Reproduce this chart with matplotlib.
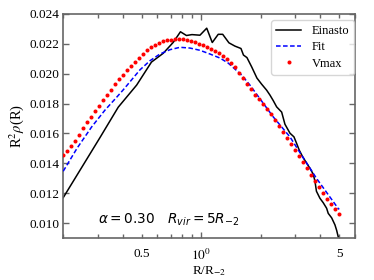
import matplotlib
matplotlib.use("Agg")
import matplotlib.pyplot as plt
from matplotlib.ticker import FixedLocator, FixedFormatter, MultipleLocator, FormatStrFormatter

plt.rcParams['font.family'] = ['Liberation Serif', 'DejaVu Serif']
plt.rcParams['mathtext.fontset'] = 'stix'

# Einasto profile (simulation)
ein_x = [0.2, 0.3069, 0.3799, 0.4709, 0.5596, 0.6421, 0.7214, 0.7847, 0.8415, 0.8973,
         0.985, 1.066, 1.137, 1.219, 1.284, 1.381, 1.481, 1.589, 1.636, 1.704,
         1.800, 1.914, 2.022, 2.143, 2.228, 2.315, 2.409, 2.554, 2.653, 2.813,
         2.948, 3.041, 3.135, 3.262, 3.418, 3.551, 3.691, 3.765, 3.831, 3.990,
         4.147, 4.314, 4.395, 4.574, 4.753, 4.849, 4.94]
ein_y = [0.01170, 0.01572, 0.01776, 0.01924, 0.02078, 0.02137, 0.02210, 0.02281, 0.02256, 0.02262,
         0.02258, 0.02305, 0.02209, 0.02264, 0.02264, 0.02207, 0.02185, 0.02169, 0.02125, 0.02108,
         0.02046, 0.01971, 0.01930, 0.01890, 0.01857, 0.01820, 0.01778, 0.01743, 0.01662, 0.01602,
         0.01577, 0.01533, 0.01488, 0.01444, 0.01401, 0.01367, 0.01327, 0.01280, 0.01213, 0.01166,
         0.01136, 0.01099, 0.01065, 0.01035, 0.00988, 0.00951, 0.00907]

# Fit
fit_x = [0.2, 0.235, 0.2787, 0.3253, 0.3657, 0.4014, 0.4894, 0.5498, 0.6178, 0.6943,
         0.7803, 0.8765, 0.985, 1.107, 1.244, 1.370, 1.602, 1.764, 2.315, 2.813,
         3.16, 3.839, 4.94, 5.0]
fit_y = [0.01347, 0.01501, 0.01644, 0.01756, 0.01830, 0.01890, 0.02026, 0.02087, 0.02132, 0.02161,
         0.02177, 0.02172, 0.02157, 0.02132, 0.02105, 0.02071, 0.01991, 0.01924, 0.01711, 0.01577,
         0.01472, 0.01298, 0.01097, 0.01092]

# Vmax
vmax_x = [0.2, 0.2096, 0.2196, 0.2301, 0.2411, 0.2526, 0.2646, 0.2773, 0.2905, 0.3044,
          0.3189, 0.3341, 0.3501, 0.3668, 0.3843, 0.4027, 0.4219, 0.4421, 0.4632, 0.4853,
          0.5085, 0.5328, 0.5582, 0.5849, 0.6128, 0.6421, 0.6727, 0.7049, 0.7385, 0.7738,
          0.8108, 0.8495, 0.8901, 0.9326, 0.9771, 1.0238, 1.0727, 1.1239, 1.1776, 1.2338,
          1.2928, 1.3545, 1.4192, 1.4870, 1.5580, 1.6324, 1.7104, 1.7921, 1.8777, 1.9674,
          2.0613, 2.1598, 2.2629, 2.3710, 2.4843, 2.6029, 2.7272, 2.8575, 2.9940, 3.1370,
          3.2868, 3.4438, 3.6083, 3.7806, 3.9612, 4.1504, 4.3486, 4.5563, 4.7739, 5.0]
vmax_y = [0.01454, 0.01484, 0.01515, 0.01551, 0.01592, 0.01635, 0.01676, 0.01709, 0.01749, 0.01786,
          0.01823, 0.01860, 0.01894, 0.01930, 0.01964, 0.01994, 0.02024, 0.02051, 0.02078, 0.02105,
          0.02135, 0.02159, 0.02179, 0.02195, 0.02207, 0.02217, 0.02224, 0.02228, 0.02232, 0.02232,
          0.02230, 0.02227, 0.02220, 0.02212, 0.02201, 0.02192, 0.02180, 0.02167, 0.02152, 0.02136,
          0.02118, 0.02098, 0.02072, 0.02043, 0.02008, 0.01970, 0.01930, 0.01895, 0.01860, 0.01830,
          0.01796, 0.01766, 0.01729, 0.01692, 0.01652, 0.01610, 0.01568, 0.01528, 0.01488, 0.01451,
          0.01411, 0.01367, 0.01321, 0.01283, 0.01244, 0.01203, 0.01164, 0.01127, 0.01091, 0.01058]

x_minor_labels = {0.5: "0.5", 5.0: "5"}

fig = plt.figure(figsize=(3.74, 2.80), dpi=100)
ax = fig.add_axes([0.169, 0.15, 0.78, 0.80])

ax.plot(ein_x, ein_y, color='black', lw=1.1, label='Einasto', zorder=2)
ax.plot(fit_x, fit_y, color='blue', lw=1.1, ls='--', dashes=(3.0, 1.6), label='Fit', zorder=3)
ax.plot(vmax_x, vmax_y, ls='none', marker='o', ms=2.9, mec='none', color='red', label='Vmax', zorder=4)

ax.set_xscale('log')
ax.set_xlim(0.2, 6)
ax.set_ylim(0.009, 0.024)

ax.xaxis.set_major_locator(FixedLocator([1.0]))
ax.xaxis.set_major_formatter(FixedFormatter([r'$10^0$']))
minor_pos = [0.2, 0.3, 0.4, 0.5, 0.6, 0.7, 0.8, 0.9, 2, 3, 4, 5, 6]
ax.xaxis.set_minor_locator(FixedLocator(minor_pos))
ax.xaxis.set_minor_formatter(FixedFormatter([x_minor_labels.get(float(v), '') for v in minor_pos]))

ax.yaxis.set_major_locator(MultipleLocator(0.002))
ax.yaxis.set_major_formatter(FormatStrFormatter('%.3f'))

spine_c = '#666666'
for s in ax.spines.values():
    s.set_color(spine_c)
    s.set_linewidth(1.2)
ax.tick_params(which='both', direction='in', top=True, right=True, color=spine_c, labelsize=9.5, labelcolor='black')
ax.tick_params(which='major', length=4, width=1.0)
ax.tick_params(which='minor', length=3, width=1.0)
ax.tick_params(axis='x', which='both', pad=7)
ax.tick_params(axis='y', which='both', pad=2.5)

ax.set_xlabel(r'R/R$_{-2}$', fontsize=9.5, labelpad=1)
ax.set_ylabel(r'R$^2\rho$(R)', fontsize=10.5, labelpad=3)

ax.text(0.119, 0.065, r'$\alpha = 0.30 \quad R_{vir} = 5R_{-2}$', transform=ax.transAxes,
        fontsize=9.8, math_fontfamily='dejavusans', va='baseline', ha='left')

leg = ax.legend(loc='upper right', bbox_to_anchor=(0.997, 0.973), borderaxespad=0,
                fontsize=9, numpoints=1, handlelength=2.0, handletextpad=0.8,
                labelspacing=0.35, borderpad=0.4)

fig.savefig('out.png', dpi=100)
